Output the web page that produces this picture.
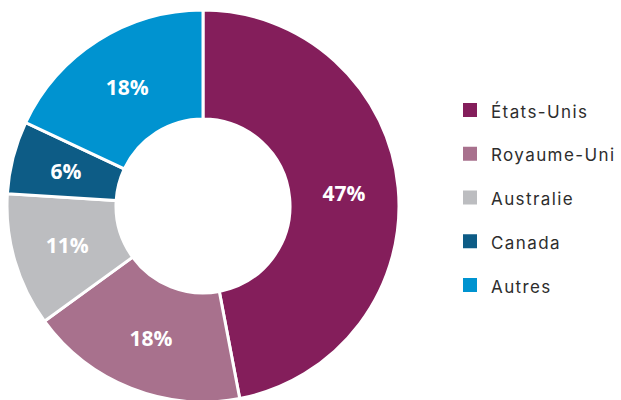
<!DOCTYPE html>
<html>
<head>
<meta charset="utf-8">
<script src="https://cdn.jsdelivr.net/npm/d3@7"></script>
<style>
  body { margin: 0; background: #fff; }
</style>
</head>
<body>
<div id="pie-container"></div>
<script>
const categories = ['États-Unis', 'Royaume-Uni', 'Australie', 'Canada', 'Autres'];
const values = [47, 18, 11, 6, 18];
const colors = ['#841e5b', '#a8718d', '#bcbdc0', '#0d5c86', '#0093d0'];

const width = 621;
const height = 400;
const outerRadius = 196;
const innerRadius = 87;
const cx = 203;
const cy = 206;

const data = categories.map((label, i) => ({ label, value: values[i], color: colors[i] }));

const svg = d3
  .select('#pie-container')
  .append('svg')
  .attr('width', width)
  .attr('height', height);

const g = svg.append('g')
  .attr('transform', `translate(${cx}, ${cy})`);

const arcGenerator = d3
  .arc()
  .innerRadius(innerRadius)
  .outerRadius(outerRadius);

const pieGenerator = d3
  .pie()
  .sort(null)
  .padAngle(0)
  .value((d) => d.value);

const arc = g
  .selectAll()
  .data(pieGenerator(data))
  .enter();

// slices
arc
  .append('path')
  .attr('d', arcGenerator)
  .style('fill', (d) => d.data.color)
  .style('stroke', '#ffffff')
  .style('stroke-width', 3);

// percentage labels
arc
  .append('text')
  .attr('text-anchor', 'middle')
  .attr('dominant-baseline', 'central')
  .style('font-family', '"Open Sans", sans-serif')
  .style('font-weight', 700)
  .style('font-size', '21px')
  .style('fill', '#ffffff')
  .text((d) => `${d.data.value}%`)
  .attr('transform', (d) => {
    const [x, y] = arcGenerator.centroid(d);
    return `translate(${x}, ${y})`;
  });

// legend
const legend = svg.append('g')
  .attr('transform', 'translate(463, 110)');

const item = legend.selectAll('g')
  .data(data)
  .enter()
  .append('g')
  .attr('transform', (_, i) => `translate(0, ${i * 43.75})`);

item.append('rect')
  .attr('x', 0)
  .attr('y', -7)
  .attr('width', 14)
  .attr('height', 14)
  .style('fill', (d) => d.color);

item.append('text')
  .attr('x', 28)
  .attr('y', 7.5)
  .style('font-family', 'Inter, sans-serif')
  .style('font-size', '17px')
  .style('letter-spacing', '1.4px')
  .style('fill', '#2d2d2d')
  .text((d) => d.label);
</script>
</body>
</html>
